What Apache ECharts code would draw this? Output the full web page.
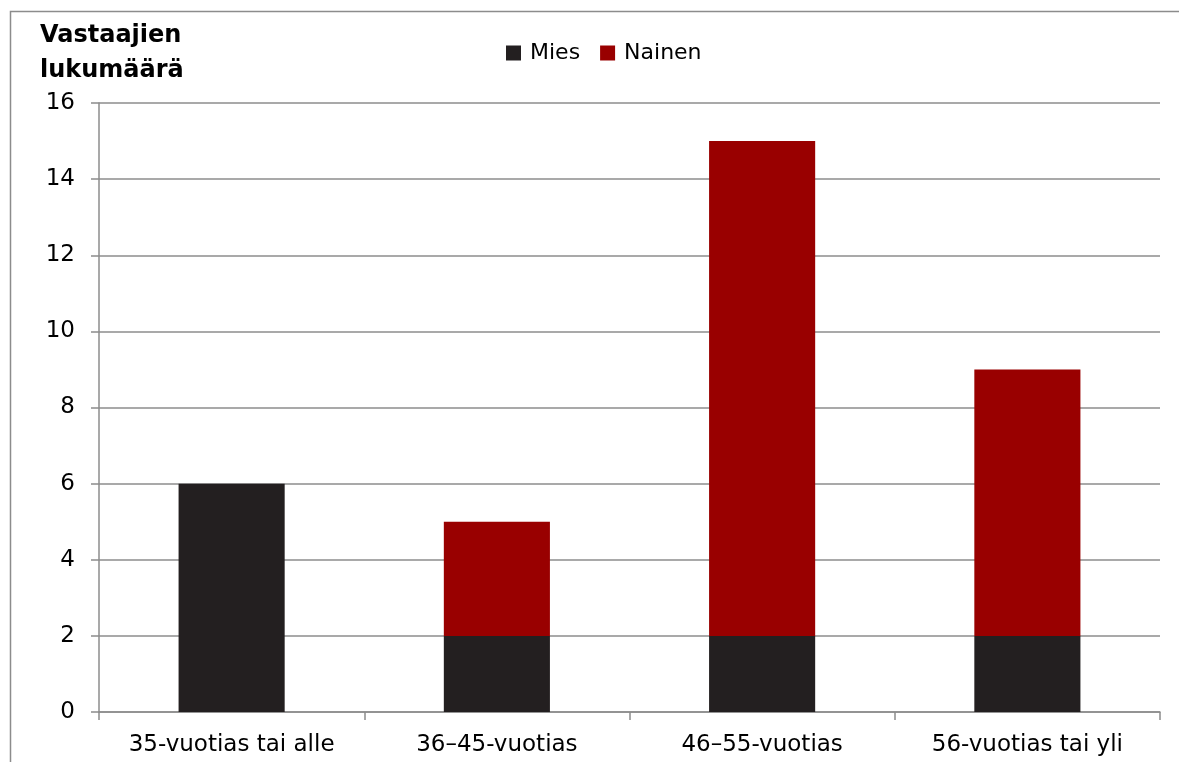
<!DOCTYPE html>
<html>
<head>
<meta charset="utf-8">
<script src="https://cdn.jsdelivr.net/npm/echarts@6/dist/echarts.min.js"></script>
<style>
  html, body { margin: 0; padding: 0; background: #fff; }
  #chart { width: 1179px; height: 762px; }
</style>
</head>
<body>
<div id="chart"></div>
<script>
// Respondents by age group, split by gender (stacked)
const categories = ['35-vuotias tai alle', '36–45-vuotias', '46–55-vuotias', '56-vuotias tai yli'];
const mies = [6, 2, 2, 2];
const nainen = [0, 3, 13, 7];
const yTicks = { min: 0, max: 16, interval: 2 };

const FONT = 'DejaVu Sans';
const chart = echarts.init(document.getElementById('chart'));

chart.setOption({
  backgroundColor: '#fff',
  textStyle: { fontFamily: FONT },
  animation: false,
  graphic: [
    // frame around the chart area (left and top edges visible)
    { type: 'rect', shape: { x: 10.5, y: 11.5, width: 1300, height: 900 },
      style: { fill: 'none', stroke: '#8c8c8c', lineWidth: 1.5 }, silent: true },
    { type: 'text', left: 40, top: 18,
      style: { text: 'Vastaajien\nlukumäärä', fontFamily: FONT, fontWeight: 'bold',
               fontSize: 24, lineHeight: 35, fill: '#000' } }
  ],
  legend: {
    top: 37, left: 501,
    itemWidth: 15, itemHeight: 15, itemGap: 20,
    icon: 'rect',
    textStyle: { fontFamily: FONT, fontSize: 22, color: '#000', padding: [0, 0, 0, 4] },
    data: ['Mies', 'Nainen']
  },
  grid: { left: 99, right: 19, top: 103, bottom: 50, containLabel: false },
  xAxis: {
    type: 'category',
    data: categories,
    axisLine: { lineStyle: { color: '#8c8c8c', width: 1.5 } },
    axisTick: { show: true, alignWithLabel: false, length: 8, lineStyle: { color: '#8c8c8c', width: 1.5 } },
    axisLabel: { fontFamily: FONT, fontSize: 23, color: '#000', margin: 22, interval: 0 }
  },
  yAxis: {
    type: 'value',
    min: yTicks.min, max: yTicks.max, interval: yTicks.interval,
    axisLine: { show: true, lineStyle: { color: '#8c8c8c', width: 1.5 } },
    axisTick: { show: true, length: 8, lineStyle: { color: '#8c8c8c', width: 1.5 } },
    splitLine: { show: true, lineStyle: { color: '#8c8c8c', width: 1.5 } },
    axisLabel: { fontFamily: FONT, fontSize: 23, color: '#000', margin: 24 }
  },
  series: [
    { name: 'Mies', type: 'bar', stack: 'total', data: mies,
      itemStyle: { color: '#231f20' }, barWidth: '40%' },
    { name: 'Nainen', type: 'bar', stack: 'total', data: nainen,
      itemStyle: { color: '#990000' }, barWidth: '40%' }
  ]
});
</script>
</body>
</html>
